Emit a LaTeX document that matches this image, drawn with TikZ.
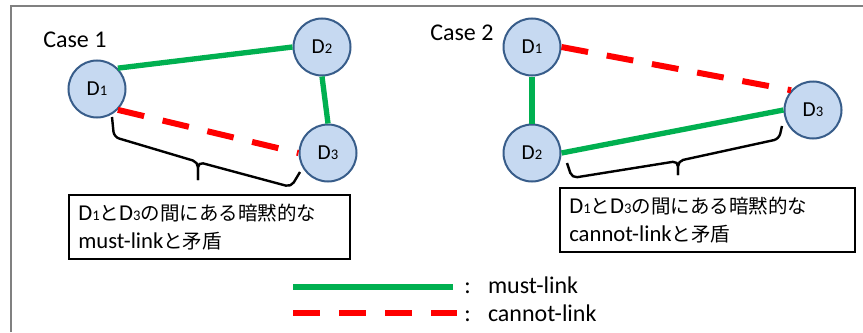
\documentclass[tikz,border=0pt]{standalone}
\usepackage{fontspec}
\setmainfont{Carlito}
\newfontfamily\jafont{Noto Sans CJK JP}[Scale=0.86]
\usetikzlibrary{positioning, calc}
\definecolor{mlgreen}{RGB}{0,176,80}
\definecolor{clred}{RGB}{255,0,0}
\definecolor{docfill}{RGB}{198,217,241}
\definecolor{docline}{RGB}{56,93,138}
\definecolor{framegray}{RGB}{128,128,128}
\newcommand{\ja}[1]{{\jafont #1}}
\newcommand{\lowdigit}[1]{{\fontsize{11}{11}\selectfont #1}}
\tikzset{
  doc/.style={circle, draw=docline, line width=1.5pt, fill=docfill, minimum size=42.75pt, inner sep=0pt, font=\fontsize{16}{18}\selectfont},
  mustlink/.style={draw=mlgreen, line width=4pt},
  cannotlink/.style={draw=clred, line width=4.5pt, dash pattern=on 20.25pt off 14.25pt},
  note/.style={draw, line width=1.5pt, align=left, inner xsep=7pt, inner ysep=0pt, minimum height=48pt, font=\fontsize{17}{21}\selectfont},
  bracket/.style={line width=1.8pt, rounded corners=4pt},
}

\begin{document}
\begin{tikzpicture}[x=0.75pt, y=-0.75pt, legend/.style={anchor=base west, inner sep=0pt, font=\fontsize{18}{20}\selectfont}]
                \useasboundingbox (0,0) rectangle (863,332);
                \draw[framegray, line width=1.5pt] (11,332) -- (11,6) -- (863,6);
                % Case 1
                \node[anchor=base west, inner sep=0pt, font=\fontsize{18}{20}\selectfont] (case1) at (43,47) {Case 1};
                \node[doc] (a1) at (97,89) {D\lowdigit{1}};
                \node[doc] (a2) at (322,47) {D\lowdigit{2}};
                \node[doc] (a3) at (328,153) {D\lowdigit{3}};
                \draw[mustlink] (a1.45) -- (a2.west);
                \draw[mustlink] (a2.south) -- (a3.north);
                \draw[cannotlink] (a1.-45) -- (a3.west);
                \draw[bracket] (112,117) -- (114,137) -- (198,162) -- (198,180);
                \draw[bracket] (300,172) -- (291,187) -- (198,162) -- (198,180);
                \node[note, minimum width=210.75pt, text width=196.75pt] (note1) at (209.5,227) {D\lowdigit{1}\ja{と}D\lowdigit{3}\ja{の間にある暗黙的な}\\must-link\ja{と矛盾}};
                % Case 2
                \node[anchor=base west, inner sep=0pt, font=\fontsize{18}{20}\selectfont] (case2) at (430,40) {Case 2};
                \node[doc] (b1) at (532,47) {D\lowdigit{1}};
                \node[doc] (b2) at (532,153) {D\lowdigit{2}};
                \node[doc] (b3) at (813,110) {D\lowdigit{3}};
                \draw[mustlink] (b1.south) -- (b2.north);
                \draw[mustlink] (b2.east) -- (b3.west);
                \draw[cannotlink] (b1.east) -- (b3.138);
                \draw[bracket] (567,163) -- (572,178) -- (678,161) -- (678,175);
                \draw[bracket] (782,126) -- (779,139) -- (678,161) -- (678,175);
                \node[note, minimum width=221.25pt, text width=207.25pt] (note2) at (707.5,220) {D\lowdigit{1}\ja{と}D\lowdigit{3}\ja{の間にある暗黙的な}\\cannot-link\ja{と矛盾}};
                % legend
                \coordinate (mlA) at (293,287);
                \coordinate (mlB) at (453,287);
                \coordinate (clA) at (293,313);
                \coordinate (clB) at (457,313);
                \draw[mustlink] (mlA) -- (mlB);
                \draw[cannotlink] (clA) -- (clB);
                \node[legend] (mltext) at (464,293) {:\hspace{13pt}must-link};
                \node[legend] (cltext) at (464,321) {:\hspace{13pt}cannot-link};
            \end{tikzpicture}
\end{document}
